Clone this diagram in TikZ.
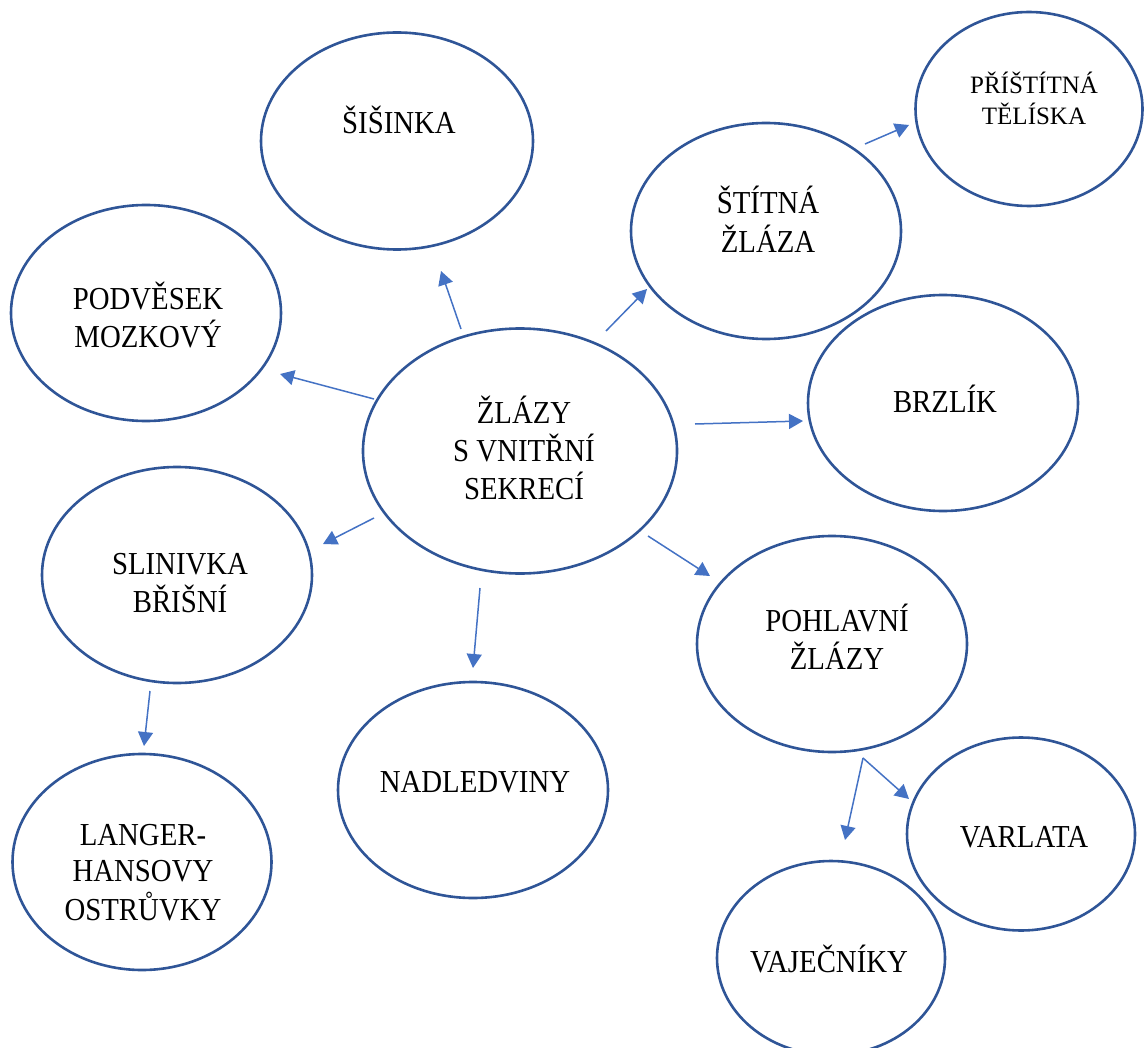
\documentclass[tikz,border=0pt]{standalone}
\usepackage{fontspec}
\setmainfont[FakeStretch=0.9]{Liberation Serif}
\newfontfamily\plainserif{Liberation Serif}
\usetikzlibrary{shapes.geometric,arrows.meta}
\definecolor{ringblue}{HTML}{2F5597}
\definecolor{arrowblue}{HTML}{4472C4}
\newcommand{\glines}[1]{\begin{tabular}[t]{@{}c@{}}#1\end{tabular}}
\begin{document}
\begin{tikzpicture}[x=1pt,y=-1pt,
  gland/.style={ellipse,draw=ringblue,line width=2.6pt,inner sep=0pt},
  big/.style={gland,minimum width=270pt,minimum height=216pt},
  small/.style={gland,minimum width=226pt,minimum height=194pt},
  lab/.style={anchor=base,inner sep=0pt,font=\fontsize{32}{36}\selectfont},
  smalllab/.style={anchor=base,inner sep=0pt,font=\plainserif\fontsize{25}{31}\selectfont},
  conn/.style={draw=arrowblue,line width=1.5pt,-{Triangle[length=14pt,width=15pt]}}
]
\useasboundingbox (0,0) rectangle (1145,1048);
% glands
\node[gland,minimum width=314pt,minimum height=245pt] (main) at (520,451) {};
\node[big,minimum width=272pt,minimum height=217pt] (sis) at (397,141) {};
\node[small,minimum width=227pt] (pri) at (1029,109) {};
\node[big] (sti) at (766,231) {};
\node[big] (pod) at (146,313) {};
\node[big] (brz) at (943,403) {};
\node[big] (sli) at (177,575) {};
\node[big] (poh) at (832,644) {};
\node[big] (nad) at (473,790) {};
\node[small,minimum width=228pt,minimum height=193pt] (var) at (1021,834) {};
\node[big,minimum width=259pt] (lan) at (142,862) {};
\node[small,minimum width=228pt] (vaj) at (831,958) {};
% labels
\node[lab] (maint) at (524,423) {\glines{ŽLÁZY\\S VNITŘNÍ\\SEKRECÍ}};
\node[lab] (sist) at (399,134) {\glines{ŠIŠINKA}};
\node[smalllab] (prit) at (1034,94) {\glines{PŘÍŠTÍTNÁ\\TĚLÍSKA}};
\node[lab] (stit) at (768,214) {\glines{ŠTÍTNÁ\\ŽLÁZA}};
\node[lab] (podt) at (148,309) {\glines{PODVĚSEK\\MOZKOVÝ}};
\node[lab] (brzt) at (945,412) {\glines{BRZLÍK}};
\node[lab] (slit) at (180,574) {\glines{SLINIVKA\\BŘIŠNÍ}};
\node[lab] (poht) at (837,631) {\glines{POHLAVNÍ\\ŽLÁZY}};
\node[lab] (nadt) at (475,792) {\glines{NADLEDVINY}};
\node[lab] (vart) at (1024,847) {\glines{VARLATA}};
\node[lab] (lant) at (143,845) {\glines{LANGER-\\HANSOVY\\OSTRŮVKY}};
\node[lab] (vajt) at (829,972) {\glines{VAJEČNÍKY}};
% arrow end points
\coordinate (m-sis) at (461,329);  \coordinate (sis-in) at (441,271);
\coordinate (m-pod) at (374,399);  \coordinate (pod-in) at (280,374);
\coordinate (m-sti) at (606,331);  \coordinate (sti-in) at (647,289);
\coordinate (sti-pri) at (865,144); \coordinate (pri-in) at (909,125);
\coordinate (m-brz) at (695,424);  \coordinate (brz-in) at (803,421);
\coordinate (m-sli) at (374,518);  \coordinate (sli-in) at (323,544);
\coordinate (m-nad) at (480,588);  \coordinate (nad-in) at (473,668);
\coordinate (m-poh) at (648,536);  \coordinate (poh-in) at (710,576);
\coordinate (sli-lan) at (150,691); \coordinate (lan-in) at (144,746);
\coordinate (poh-out) at (863,758);
\coordinate (var-in) at (909,799);  \coordinate (vaj-in) at (845,840);
% connectors
\draw[conn] (m-sis) -- (sis-in);
\draw[conn] (m-pod) -- (pod-in);
\draw[conn] (m-sti) -- (sti-in);
\draw[conn] (sti-pri) -- (pri-in);
\draw[conn] (m-brz) -- (brz-in);
\draw[conn] (m-sli) -- (sli-in);
\draw[conn] (m-nad) -- (nad-in);
\draw[conn] (m-poh) -- (poh-in);
\draw[conn] (sli-lan) -- (lan-in);
\draw[conn] (poh-out) -- (var-in);
\draw[conn] (poh-out) -- (vaj-in);
\end{tikzpicture}
\end{document}
